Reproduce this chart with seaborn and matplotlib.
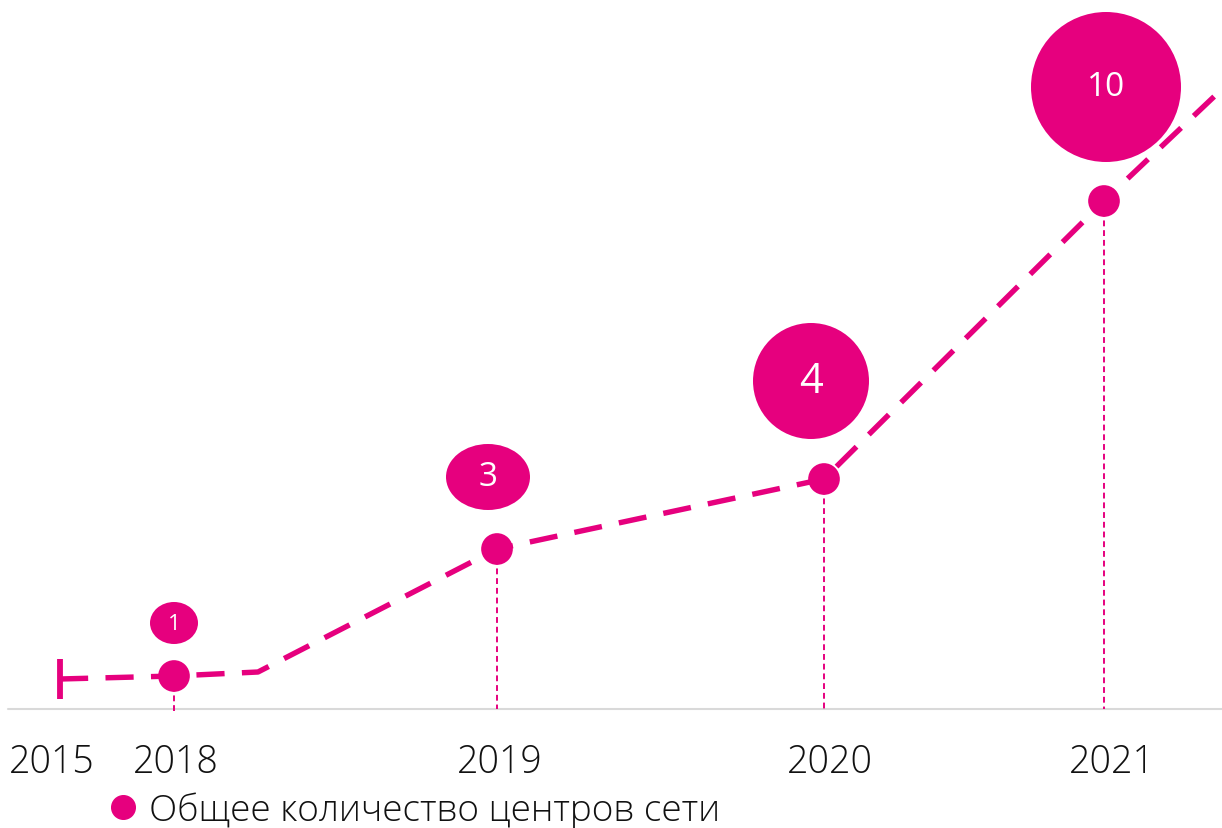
import numpy as np
import pandas as pd
import matplotlib.pyplot as plt
import seaborn as sns
from matplotlib.patches import Ellipse
from matplotlib.lines import Line2D

# data (positions on a timeline scale, level on a value scale with axis at 0)
years = ['2015', '2018', '2019', '2020', '2021']
year_label_x = [52, 176, 500, 830, 1112]
point_x = [174, 497, 824, 1104]
point_y = [33, 160, 230, 508]
trend_x = [60, 174, 258, 497, 824, 1104, 1220]
trend_y = [30, 33, 37, 160, 230, 508, 618]
centers = [1, 3, 4, 10]
bubble_x = [174, 488, 811, 1106]
bubble_y = [86, 232, 328, 622]
bubble_w = [48, 84, 116, 150]
bubble_h = [42, 66, 116, 150]
bubble_fs = [16, 24, 30, 24]
legend_label = 'Общее количество центров сети'

pink = '#E6007E'

sns.set_style('white')
plt.rcParams['font.family'] = ['Open Sans', 'DejaVu Sans']
plt.rcParams['font.weight'] = 'light'

fig = plt.figure(figsize=(12.22, 8.29), dpi=100)
ax = fig.add_axes([0, 0, 1, 1])
ax.set_xlim(0, 1222)
ax.set_ylim(-119, 710)
ax.axis('off')

# baseline
ax.axhline(0, xmin=8 / 1222, xmax=1, color='#d9d9d9', lw=1.5, zorder=1)

# dashed trend
trend = pd.DataFrame({'x': trend_x, 'y': trend_y})
sns.lineplot(data=trend, x='x', y='y', ax=ax, color=pink, lw=3.9,
             sort=False, zorder=2)
ax.lines[-1].set_dashes((5.2, 3.2))
ax.plot(trend_x[0], trend_y[0], marker='|', ms=29, mew=4.2, color=pink, zorder=3)

# drop lines
for x, y in zip(point_x, point_y):
    ax.plot([x, x], [y, -4 if x == point_x[0] else 0], color=pink, lw=1.4,
            dashes=(3, 2), zorder=1)

pts = pd.DataFrame({'x': point_x, 'y': point_y})
sns.scatterplot(data=pts, x='x', y='y', ax=ax, color=pink, s=520,
                edgecolor='none', zorder=4)

# bubbles
for x, y, w, h, n, fs in zip(bubble_x, bubble_y, bubble_w, bubble_h, centers, bubble_fs):
    ax.add_patch(Ellipse((x, y), w, h, color=pink, lw=0, zorder=4))
    ax.text(x, y, str(n), color='white', fontsize=fs, fontweight='normal',
            ha='center', va='center', zorder=5)

for lbl, x in zip(years, year_label_x):
    ax.text(x, -53, lbl, fontsize=27, ha='center', va='center', color='#111111')

handle = Line2D([], [], marker='o', ls='none', color=pink, ms=17)
ax.legend([handle], [legend_label], loc='center left',
          bbox_to_anchor=(105 / 1222, 18 / 829), frameon=False,
          fontsize=26.6, handlelength=1.0, handletextpad=0.2,
          borderpad=0, borderaxespad=0, labelcolor='#111111')

fig.savefig('out.png', dpi=100)
